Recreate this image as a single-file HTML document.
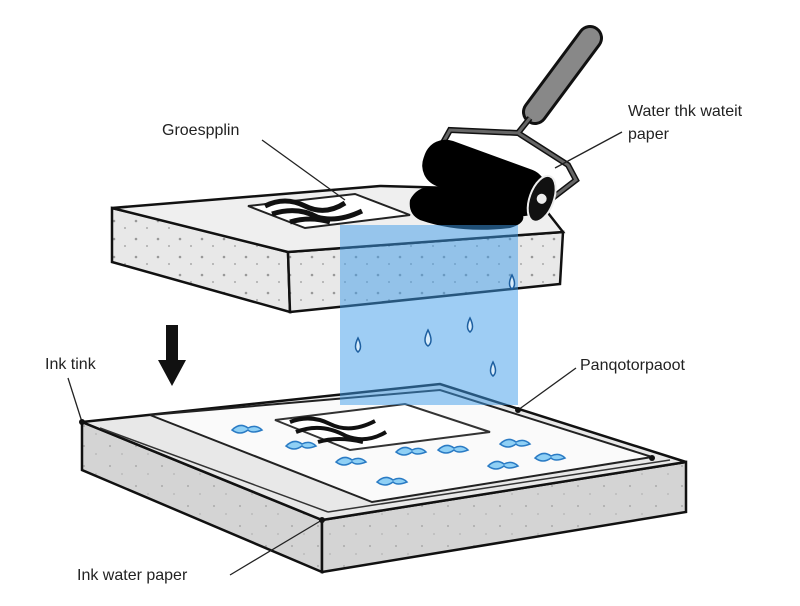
<!DOCTYPE html>
<html><head><meta charset="utf-8"><style>
html,body{margin:0;padding:0;background:#fff;}
svg{display:block;}
text{font-family:"Liberation Sans",sans-serif;font-size:16px;fill:#222;}
</style></head><body>
<svg width="800" height="606" viewBox="0 0 800 606" xmlns="http://www.w3.org/2000/svg">
<defs>
<pattern id="dots" width="22" height="18" patternUnits="userSpaceOnUse">
<rect width="22" height="18" fill="#e8e8e8"/>
<circle cx="4" cy="5" r="1.3" fill="#999"/><circle cx="15" cy="12" r="1" fill="#aaa"/>
</pattern>
<pattern id="dots2" width="26" height="20" patternUnits="userSpaceOnUse">
<rect width="26" height="20" fill="#d4d4d4"/>
<circle cx="6" cy="6" r="1" fill="#aaa"/><circle cx="18" cy="14" r="1" fill="#bbb"/>
</pattern>
</defs>
<!-- bottom slab -->
<polygon points="82,422 322,520 322,572 82,470" fill="url(#dots2)" stroke="#111" stroke-width="2.5"/>
<polygon points="322,520 686,462 686,512 322,572" fill="url(#dots2)" stroke="#111" stroke-width="2.5"/>
<polygon points="82,422 440,384 686,462 322,520" fill="#e8e8e8" stroke="#111" stroke-width="2.5"/>
<polygon points="150,415 440,390 652,457 372,502" fill="#fafafa" stroke="#222" stroke-width="2"/>
<line x1="100" y1="428" x2="328" y2="512" stroke="#333" stroke-width="1.5"/>
<line x1="328" y1="512" x2="670" y2="460" stroke="#333" stroke-width="1.5"/>
<!-- print on bottom -->
<polygon points="275,420 405,404 490,432 350,450" fill="#fff" stroke="#333" stroke-width="2"/>
<path d="M290,422 q20,-8 40,2 q20,10 45,-3 M296,432 q25,-10 50,4 q20,8 40,-4 M318,442 q20,-6 45,0" stroke="#111" stroke-width="4" fill="none"/>
<g fill="#8fd0f5" stroke="#2a7bc4" stroke-width="1.5">
<path d="M232,430 q8,-8 16,-2 q8,-4 14,2 q-10,4 -14,0 q-8,6 -16,0z"/>
<path d="M286,446 q8,-8 16,-2 q8,-4 14,2 q-10,4 -14,0 q-8,6 -16,0z"/>
<path d="M336,462 q8,-8 16,-2 q8,-4 14,2 q-10,4 -14,0 q-8,6 -16,0z"/>
<path d="M377,482 q8,-8 16,-2 q8,-4 14,2 q-10,4 -14,0 q-8,6 -16,0z"/>
<path d="M396,452 q8,-8 16,-2 q8,-4 14,2 q-10,4 -14,0 q-8,6 -16,0z"/>
<path d="M438,450 q8,-8 16,-2 q8,-4 14,2 q-10,4 -14,0 q-8,6 -16,0z"/>
<path d="M500,444 q8,-8 16,-2 q8,-4 14,2 q-10,4 -14,0 q-8,6 -16,0z"/>
<path d="M488,466 q8,-8 16,-2 q8,-4 14,2 q-10,4 -14,0 q-8,6 -16,0z"/>
<path d="M535,458 q8,-8 16,-2 q8,-4 14,2 q-10,4 -14,0 q-8,6 -16,0z"/>
</g>
<!-- top slab -->
<polygon points="112,208 288,252 290,312 112,262" fill="url(#dots)" stroke="#111" stroke-width="2.5"/>
<polygon points="288,252 563,232 560,284 290,312" fill="url(#dots)" stroke="#111" stroke-width="2.5"/>
<polygon points="112,208 380,186 530,190 563,232 288,252" fill="#efefef" stroke="#111" stroke-width="2.5"/>
<polygon points="248,206 355,194 410,215 305,228" fill="#fff" stroke="#222" stroke-width="2"/>
<path d="M265,206 q20,-10 40,0 q20,10 40,-3 M272,214 q25,-8 45,3 q20,6 45,-6 M290,222 q20,-6 40,0" stroke="#111" stroke-width="5" fill="none"/>
<!-- ink blob -->
<path d="M410,200 q10,-20 40,-10 l70,20 q10,12 -10,18 q-50,6 -90,-8 q-12,-6 -10,-20z" fill="#000"/>
<!-- blue beam -->
<rect x="340" y="225" width="178" height="180" fill="#3d9be9" opacity="0.5"/>
<g fill="#d8ecfb" stroke="#1d5fa0" stroke-width="1.5">
<path d="M358,338 q-5,10 0,14 q5,-4 0,-14z"/><path d="M428,330 q-6,12 0,16 q6,-4 0,-16z"/>
<path d="M470,318 q-5,10 0,14 q5,-4 0,-14z"/><path d="M493,362 q-5,10 0,14 q5,-4 0,-14z"/>
<path d="M512,275 q-5,10 0,14 q5,-4 0,-14z"/>
</g>
<!-- roller -->
<line x1="590" y1="38" x2="535" y2="112" stroke="#111" stroke-width="26" stroke-linecap="round"/>
<line x1="590" y1="38" x2="535" y2="112" stroke="#888" stroke-width="20" stroke-linecap="round"/>
<path d="M530,118 L518,133 L450,130 L440,148 M518,133 L568,165 L576,180 L550,200" stroke="#111" stroke-width="6" fill="none"/>
<path d="M530,118 L518,133 L450,130 L440,148 M518,133 L568,165 L576,180 L550,200" stroke="#666" stroke-width="3" fill="none"/>
<g transform="rotate(20 490 180)">
<rect x="420" y="156" width="128" height="48" rx="22" fill="#000"/>
<ellipse cx="545" cy="180" rx="12" ry="24" fill="#111" stroke="#eee" stroke-width="2"/>
<circle cx="545" cy="180" r="5" fill="#eee"/>
</g>
<!-- arrow -->
<rect x="166" y="325" width="12" height="38" fill="#111"/>
<polygon points="158,360 186,360 172,386" fill="#111"/>
<!-- labels -->
<text x="162" y="135">Groespplin</text>
<line x1="262" y1="140" x2="345" y2="200" stroke="#222" stroke-width="1.3"/>
<text x="628" y="116">Water thk wateit</text>
<text x="628" y="139">paper</text>
<line x1="622" y1="132" x2="555" y2="168" stroke="#222" stroke-width="1.3"/>
<text x="45" y="369">Ink tink</text>
<line x1="68" y1="378" x2="82" y2="422" stroke="#222" stroke-width="1.3"/>
<circle cx="82" cy="422" r="3" fill="#111"/>
<text x="580" y="370">Panqotorpaoot</text>
<line x1="576" y1="368" x2="518" y2="410" stroke="#222" stroke-width="1.3"/>
<circle cx="518" cy="410" r="3" fill="#111"/>
<circle cx="652" cy="458" r="3" fill="#111"/>
<text x="77" y="580">Ink water paper</text>
<line x1="230" y1="575" x2="322" y2="520" stroke="#222" stroke-width="1.3"/>
<circle cx="322" cy="520" r="3" fill="#111"/>
</svg>
</body></html>
